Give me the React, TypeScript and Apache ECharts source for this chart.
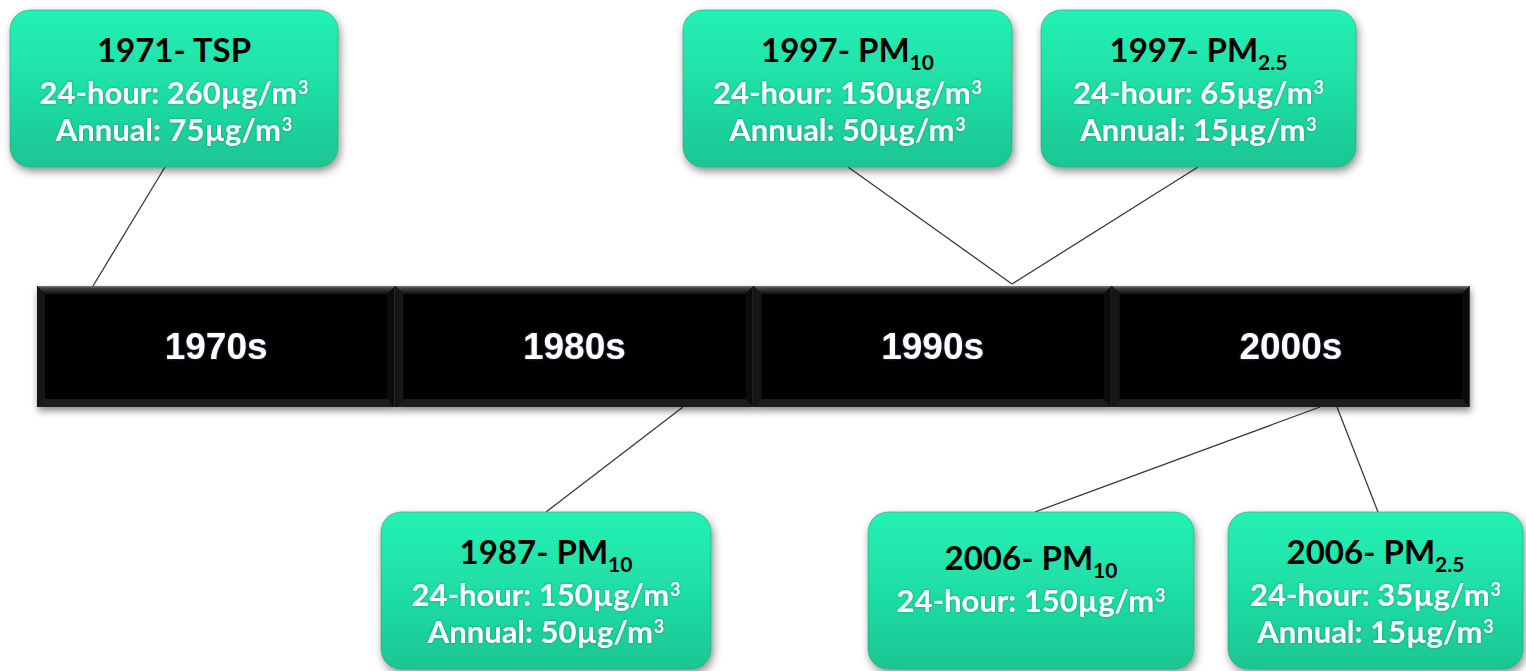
import React, { useEffect, useRef } from 'react';
import * as echarts from 'echarts';

// ---- data ----
const decadeStarts = [1970, 1980, 1990, 2000];
const decadeLabels = ['1970s', '1980s', '1990s', '2000s'];

const eventYears = [1971, 1997, 1997, 1987, 2006, 2006];
const eventPollutants = ['TSP', 'PM', 'PM', 'PM', 'PM', 'PM'];
const eventSubscripts = ['', '10', '2.5', '10', '10', '2.5'];
const eventDaily = [260, 150, 65, 150, 150, 35];
const eventAnnual: (number | null)[] = [75, 50, 15, 50, null, 15];

// ---- layout (pixels) ----
const boxLayout = [
  { x: 10, y: 10, w: 328, h: 157, tTop: 15, ax: 165, ay: 167, ex: 93, ey: 286 },
  { x: 683, y: 10, w: 329, h: 157, tTop: 15, ax: 848, ay: 167, ex: 1012, ey: 284 },
  { x: 1041, y: 10, w: 315, h: 157, tTop: 15, ax: 1198, ay: 167, ex: 1012, ey: 284 },
  { x: 381, y: 512, w: 330, h: 157, tTop: 15, ax: 546, ay: 512, ex: 683, ey: 407 },
  { x: 868, y: 512, w: 326, h: 157, tTop: 21, ax: 1035, ay: 512, ex: 1320, ey: 407 },
  { x: 1228, y: 512, w: 295, h: 157, tTop: 15, ax: 1378, ay: 512, ex: 1337, ey: 407 },
];

const BOX_FONT = 'Lato';

export default function App() {
  const ref = useRef<HTMLDivElement>(null);

  useEffect(() => {
    if (!ref.current) return;
    const chart = echarts.init(ref.current, undefined, { renderer: 'svg' });

    const barRender = (params: any, api: any) => {
      const start = api.value(0);
      const p0 = api.coord([start, 1]);
      const p1 = api.coord([start + 10, 0]);
      const x = p0[0];
      const y = p0[1];
      const w = p1[0] - p0[0];
      const h = p1[1] - p0[1];
      const b = 8;
      return {
        type: 'group',
        children: [
          {
            type: 'rect',
            shape: { x, y, width: w, height: h },
            style: {
              fill: '#060606',
              shadowBlur: 7,
              shadowOffsetX: 1,
              shadowOffsetY: 4,
              shadowColor: 'rgba(0,0,0,0.45)',
            },
          },
          {
            type: 'polygon',
            shape: { points: [[x, y], [x + w, y], [x + w - b, y + b], [x + b, y + b]] },
            style: {
              fill: new echarts.graphic.LinearGradient(0, 0, 0, 1, [
                { offset: 0, color: '#767676' },
                { offset: 0.35, color: '#3a3a3a' },
                { offset: 1, color: '#121212' },
              ]),
            },
          },
          {
            type: 'polygon',
            shape: { points: [[x, y], [x + b, y + b], [x + b, y + h - b], [x, y + h]] },
            style: { fill: '#161616' },
          },
          {
            type: 'polygon',
            shape: { points: [[x + w, y], [x + w - b, y + b], [x + w - b, y + h - b], [x + w, y + h]] },
            style: { fill: '#0c0c0c' },
          },
          {
            type: 'polygon',
            shape: { points: [[x, y + h], [x + b, y + h - b], [x + w - b, y + h - b], [x + w, y + h]] },
            style: { fill: '#1c1c1c' },
          },
          {
            type: 'line',
            shape: { x1: x + w - 0.5, y1: y, x2: x + w - 0.5, y2: y + h },
            style: { stroke: '#3c3c3c', lineWidth: 1 },
          },
          {
            type: 'text',
            x: x + w / 2,
            y: y + h / 2,
            style: {
              text: decadeLabels[params.dataIndex],
              fill: '#ffffff',
              font: 'bold 37px "Liberation Sans", Arial, sans-serif',
              align: 'center',
              verticalAlign: 'middle',
              textShadowColor: 'rgba(120,160,255,0.5)',
              textShadowBlur: 2,
            },
          },
        ],
      };
    };

    const boxRender = (params: any, api: any) => {
      const i = params.dataIndex;
      const L = boxLayout[i];
      const title =
        `{t|${eventYears[i]}- ${eventPollutants[i]}}` +
        (eventSubscripts[i] ? `{sub|${eventSubscripts[i]}}` : '');
      const lines = [title, `{w|24-hour: ${eventDaily[i]}µg/m}{sup|3}`];
      if (eventAnnual[i] != null) lines.push(`{w|Annual: ${eventAnnual[i]}µg/m}{sup|3}`);
      return {
        type: 'group',
        children: [
          {
            type: 'line',
            shape: { x1: L.ax, y1: L.ay, x2: L.ex, y2: L.ey },
            style: { stroke: '#3a3a3a', lineWidth: 1.3 },
          },
          {
            type: 'rect',
            shape: { x: L.x, y: L.y, width: L.w, height: L.h, r: 20 },
            style: {
              fill: new echarts.graphic.LinearGradient(0, 0, 0, 1, [
                { offset: 0, color: '#24f1b5' },
                { offset: 0.5, color: '#1fdea6' },
                { offset: 1, color: '#1cc594' },
              ]),
              stroke: 'rgba(20,150,110,0.5)',
              lineWidth: 1,
              shadowBlur: 8,
              shadowOffsetX: 2,
              shadowOffsetY: 4,
              shadowColor: 'rgba(0,0,0,0.45)',
            },
          },
          {
            type: 'text',
            x: L.x + L.w / 2,
            y: L.y + L.tTop,
            style: {
              text: lines.join('\n'),
              align: 'center',
              verticalAlign: 'top',
              rich: {
                t: {
                  fontFamily: BOX_FONT,
                  fontWeight: 'bold',
                  fontSize: 33,
                  fill: '#000000',
                  color: '#000000',
                  lineHeight: 48,
                },
                sub: {
                  fontFamily: BOX_FONT,
                  fontWeight: 'bold',
                  fontSize: 21,
                  fill: '#000000',
                  color: '#000000',
                  padding: [24, 0, 0, 0],
                },
                w: {
                  fontFamily: BOX_FONT,
                  fontWeight: 'bold',
                  fontSize: 31,
                  fill: '#ffffff',
                  color: '#ffffff',
                  lineHeight: 37,
                  textShadowColor: 'rgba(0,60,40,0.45)',
                  textShadowBlur: 2,
                },
                sup: {
                  fontFamily: BOX_FONT,
                  fontWeight: 'bold',
                  fontSize: 18,
                  fill: '#ffffff',
                  color: '#ffffff',
                  padding: [0, 0, 10, 1],
                  textShadowColor: 'rgba(0,60,40,0.45)',
                  textShadowBlur: 2,
                },
              },
            },
          },
        ],
      };
    };

    chart.setOption({
      animation: false,
      backgroundColor: '#ffffff',
      grid: { left: 37, right: 56, top: 286, bottom: 264 },
      xAxis: { type: 'value', min: 1970, max: 2010, show: false },
      yAxis: { type: 'value', min: 0, max: 1, show: false },
      series: [
        {
          type: 'custom',
          name: 'events',
          clip: false,
          data: eventYears.map((y, i) => [y, i]),
          renderItem: boxRender,
          z: 2,
        },
        {
          type: 'custom',
          name: 'decades',
          data: decadeStarts.map((d) => [d]),
          renderItem: barRender,
          z: 3,
        },
      ],
    });

    return () => chart.dispose();
  }, []);

  return (
    <div
      ref={ref}
      style={{ position: 'fixed', left: 0, top: 0, width: 1526, height: 671 }}
    />
  );
}
